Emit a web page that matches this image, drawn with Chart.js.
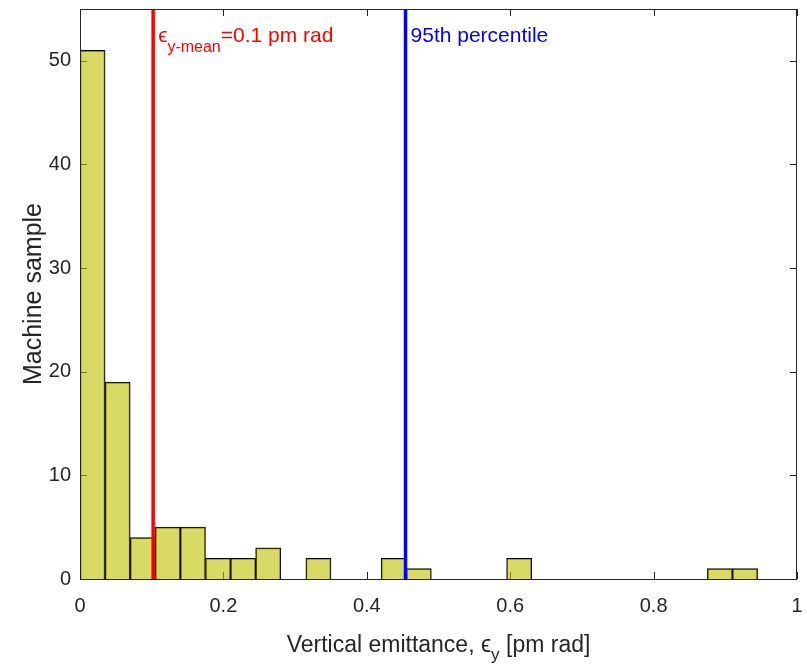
<!DOCTYPE html>
<html>
<head>
<meta charset="utf-8">
<script src="https://cdn.jsdelivr.net/npm/chart.js@4/dist/chart.umd.min.js"></script>
<style>
  html, body { margin: 0; padding: 0; background: #fff; }
  canvas { display: block; }
</style>
</head>
<body>
<canvas id="c" width="807" height="664"></canvas>
<script>
// ---- Data ----
const binCenters = [0.0175, 0.0525, 0.0875, 0.1225, 0.1575, 0.1925, 0.2275, 0.2625, 0.2975,
                    0.3325, 0.3675, 0.4025, 0.4375, 0.4725, 0.5075, 0.5425, 0.5775, 0.6125,
                    0.6475, 0.6825, 0.7175, 0.7525, 0.7875, 0.8225, 0.8575, 0.8925, 0.9275];
const counts     = [51, 19, 4, 5, 5, 2, 2, 3, 0,
                    2, 0, 0, 2, 1, 0, 0, 0, 2,
                    0, 0, 0, 0, 0, 0, 0, 1, 1];
const meanEmittance = 0.102;      // red line
const percentile95  = 0.454;      // blue line
const xTickValues = [0, 0.2, 0.4, 0.6, 0.8, 1];
const xTickLabels = ['0', '0.2', '0.4', '0.6', '0.8', '1'];
const yTickValues = [0, 10, 20, 30, 40, 50];
const yTickLabels = ['0', '10', '20', '30', '40', '50'];
const xRange = [0, 1];
const yRange = [0, 55];

const FONT = '"Liberation Sans", Arial, "DejaVu Sans", sans-serif';
const TXT = '#262626';

const histData = binCenters.map((x, i) => ({ x: x, y: counts[i] }));

function zeroPad(s) { s.paddingLeft = 0; s.paddingRight = 0; s.paddingTop = 0; s.paddingBottom = 0; }

const decorPlugin = {
  id: 'decor',
  beforeDatasetsDraw(chart) {
    const ctx = chart.ctx, a = chart.chartArea;
    const xs = chart.scales.x, ys = chart.scales.y;
    const tl = 7;
    ctx.save();
    ctx.strokeStyle = TXT;
    ctx.lineWidth = 1;
    ctx.beginPath();
    xTickValues.forEach(v => {
      const px = Math.round(xs.getPixelForValue(v)) + 0.5;
      ctx.moveTo(px, a.bottom); ctx.lineTo(px, a.bottom - tl);
      ctx.moveTo(px, a.top); ctx.lineTo(px, a.top + tl);
    });
    yTickValues.forEach(v => {
      const py = Math.round(ys.getPixelForValue(v)) + 0.5;
      ctx.moveTo(a.left, py); ctx.lineTo(a.left + tl, py);
      ctx.moveTo(a.right, py); ctx.lineTo(a.right - tl, py);
    });
    ctx.stroke();
    ctx.restore();
  },
  afterDatasetsDraw(chart) {
    const ctx = chart.ctx, a = chart.chartArea;
    const xs = chart.scales.x;
    ctx.save();
    // box
    ctx.strokeStyle = TXT;
    ctx.lineWidth = 1;
    ctx.strokeRect(Math.round(a.left) + 0.5, Math.round(a.top) + 0.5,
                   Math.round(a.right - a.left) - 1, Math.round(a.bottom - a.top));
    // annotations
    const base = a.top + 33;
    let x = xs.getPixelForValue(meanEmittance) + 5;
    ctx.textBaseline = 'alphabetic';
    ctx.textAlign = 'left';
    ctx.fillStyle = '#ff0000';
    ctx.font = '21px ' + FONT;
    ctx.fillText('\u03F5', x, base);
    x += ctx.measureText('\u03F5').width;
    ctx.font = '16px ' + FONT;
    ctx.fillText('y-mean', x, base + 10);
    x += ctx.measureText('y-mean').width;
    ctx.font = '21px ' + FONT;
    ctx.fillText('=0.1 pm rad', x, base);

    ctx.fillStyle = '#0000ff';
    ctx.fillText('95th percentile', xs.getPixelForValue(percentile95) + 5, base);
    ctx.restore();
  },
  afterDraw(chart) {
    const ctx = chart.ctx, a = chart.chartArea;
    ctx.save();
    ctx.fillStyle = TXT;
    ctx.textBaseline = 'alphabetic';
    ctx.textAlign = 'left';
    // x title with subscript
    const big = '23px ' + FONT, small = '17px ' + FONT;
    const p1 = 'Vertical emittance, ', p2 = '\u03F5', p3 = 'y', p4 = ' [pm rad]';
    ctx.font = big;
    const w1 = ctx.measureText(p1).width, w2 = ctx.measureText(p2).width, w4 = ctx.measureText(p4).width;
    ctx.font = small;
    const w3 = ctx.measureText(p3).width;
    const total = w1 + w2 + w3 + w4;
    let x = (a.left + a.right) / 2 - total / 2;
    const by = 652;
    ctx.font = big;
    ctx.fillText(p1, x, by); x += w1;
    ctx.fillText(p2, x, by); x += w2;
    ctx.font = small;
    ctx.fillText(p3, x, by + 8); x += w3;
    ctx.font = big;
    ctx.fillText(p4, x, by);
    // y title
    ctx.translate(41, (a.top + a.bottom) / 2);
    ctx.rotate(-Math.PI / 2);
    ctx.textAlign = 'center';
    ctx.font = '25px ' + FONT;
    ctx.fillText('Machine sample', 0, 0);
    ctx.restore();
  }
};

new Chart(document.getElementById('c'), {
  type: 'bar',
  data: {
    datasets: [
      {
        type: 'line',
        data: [{ x: meanEmittance, y: yRange[0] }, { x: meanEmittance, y: yRange[1] }],
        borderColor: '#ff0000', borderWidth: 3.5, pointRadius: 0, order: 0
      },
      {
        type: 'line',
        data: [{ x: percentile95, y: yRange[0] }, { x: percentile95, y: yRange[1] }],
        borderColor: '#0000ff', borderWidth: 3.5, pointRadius: 0, order: 0
      },
      {
        type: 'bar',
        data: histData,
        backgroundColor: 'rgba(192,192,0,0.6)',
        borderColor: '#000000',
        borderWidth: 1,
        barPercentage: 1.0,
        categoryPercentage: 1.0,
        order: 1
      }
    ]
  },
  options: {
    responsive: false,
    animation: false,
    events: [],
    layout: { padding: { top: 9, right: 10, left: 0, bottom: 0 } },
    plugins: { legend: { display: false }, tooltip: { enabled: false } },
    scales: {
      x: {
        type: 'linear',
        min: xRange[0], max: xRange[1],
        offset: false,
        grid: { display: false, drawTicks: false },
        border: { display: false },
        afterFit: s => { s.height = 85; zeroPad(s); },
        afterBuildTicks: s => { s.ticks = xTickValues.map(v => ({ value: v })); },
        ticks: {
          color: TXT, font: { size: 20, family: FONT }, padding: 15, maxRotation: 0,
          callback: (v) => xTickLabels[xTickValues.indexOf(v)]
        }
      },
      y: {
        type: 'linear',
        min: yRange[0], max: yRange[1],
        grid: { display: false, drawTicks: false },
        border: { display: false },
        afterFit: s => { s.width = 80; zeroPad(s); },
        afterBuildTicks: s => { s.ticks = yTickValues.map(v => ({ value: v })); },
        ticks: {
          color: TXT, font: { size: 20, family: FONT }, padding: 9,
          callback: (v) => yTickLabels[yTickValues.indexOf(v)]
        }
      }
    }
  },
  plugins: [decorPlugin]
});
</script>
</body>
</html>
